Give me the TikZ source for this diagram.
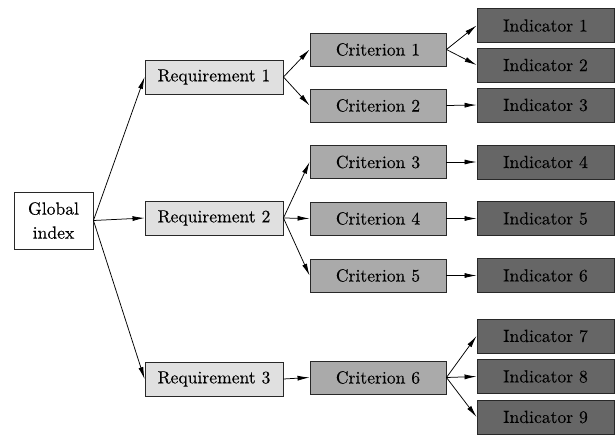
\documentclass[tikz,border=0pt]{standalone}
\usepackage{fontspec}
\newfontfamily\lmx{lmroman10-regular.otf}[FakeBold=0.2]
\usetikzlibrary{arrows.meta}
\definecolor{reqfill}{RGB}{224,224,224}
\definecolor{crifill}{RGB}{170,170,170}
\definecolor{indfill}{RGB}{102,102,102}
\definecolor{edge}{RGB}{40,40,40}
\begin{document}
\begin{tikzpicture}[x=1pt,y=-1pt,
  base/.style={draw=edge,line width=0.9pt,font=\lmx\fontsize{17.6}{20}\selectfont,inner sep=0pt,anchor=center},
  glob/.style={base,fill=white,minimum width=79pt,minimum height=57pt,align=center,font=\lmx\fontsize{17.6}{24}\selectfont},
  req/.style={base,fill=reqfill,minimum width=138pt,minimum height=34pt},
  cri/.style={base,fill=crifill,minimum width=136pt,minimum height=33pt},
  ind/.style={base,fill=indfill,minimum width=137pt,minimum height=34pt},
  arr/.style={-{Latex[length=12pt,width=5pt]},line width=0.75pt,draw=black}]
\useasboundingbox (0,0) rectangle (615,434);
\node[glob] (g) at (53.5,220.5) {Global\\index};
\node[req] (r1) at (214,77) {Requirement 1};
\node[req] (r2) at (214,218) {Requirement 2};
\node[req] (r3) at (214,379) {Requirement 3};
\node[cri] (c1) at (378,49.5) {Criterion 1};
\node[cri] (c2) at (378,105.5) {Criterion 2};
\node[cri] (c3) at (378,162) {Criterion 3};
\node[cri] (c4) at (378,218.5) {Criterion 4};
\node[cri] (c5) at (378,275.5) {Criterion 5};
\node[cri] (c6) at (378,377.5) {Criterion 6};
\node[ind] (i1) at (545.5,25.5) {Indicator 1};
\node[ind] (i2) at (545.5,65) {Indicator 2};
\node[ind] (i3) at (545.5,105) {Indicator 3};
\node[ind] (i4) at (545.5,162) {Indicator 4};
\node[ind] (i5) at (545.5,218.5) {Indicator 5};
\node[ind] (i6) at (545.5,275.5) {Indicator 6};
\node[ind] (i7) at (545.5,336) {Indicator 7};
\node[ind] (i8) at (545.5,376.5) {Indicator 8};
\node[ind] (i9) at (545.5,417) {Indicator 9};
\foreach \r in {r1,r2,r3} \draw[arr] (g.east) -- (\r.west);
\draw[arr] (r1.east) -- (c1.west);
\draw[arr] (r1.east) -- (c2.west);
\draw[arr] (r2.east) -- (c3.west);
\draw[arr] (r2.east) -- (c4.west);
\draw[arr] (r2.east) -- (c5.west);
\draw[arr] (r3.east) -- (c6.west);
\draw[arr] (c1.east) -- (i1.west);
\draw[arr] (c1.east) -- (i2.west);
\draw[arr] (c2.east) -- (i3.west);
\draw[arr] (c3.east) -- (i4.west);
\draw[arr] (c4.east) -- (i5.west);
\draw[arr] (c5.east) -- (i6.west);
\draw[arr] (c6.east) -- (i7.west);
\draw[arr] (c6.east) -- (i8.west);
\draw[arr] (c6.east) -- (i9.west);
\end{tikzpicture}
\end{document}
